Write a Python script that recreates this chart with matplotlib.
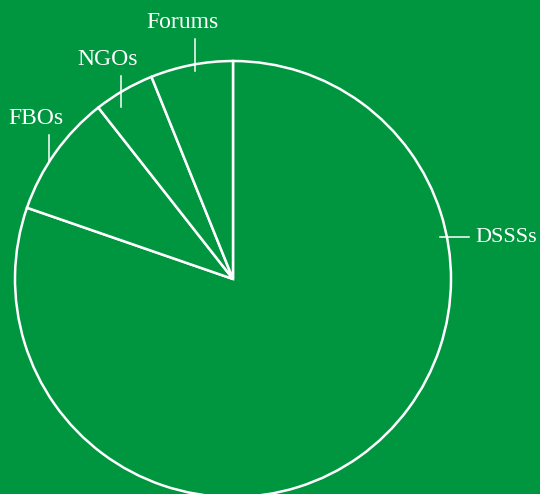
import numpy as np
import matplotlib.pyplot as plt

# Share of organisations by type
labels = ['DSSSs', 'FBOs', 'NGOs', 'Forums']
shares = [80.3, 9.1, 4.5, 6.1]

bg = '#00963f'
plt.rcParams['font.family'] = ['Liberation Serif', 'DejaVu Serif']

fig = plt.figure(figsize=(5.4, 4.94), dpi=100, facecolor=bg)
ax = fig.add_axes([0, 0, 1, 1])
ax.set_facecolor(bg)

# work in pixel-like units, y pointing up
cx, cy, r = 233, 215, 218
wedges, _ = ax.pie(shares, startangle=90, counterclock=False, center=(cx, cy), radius=r,
                   colors=[bg] * len(shares),
                   wedgeprops=dict(edgecolor='white', linewidth=1.8))
ax.set_xlim(0, 540)
ax.set_ylim(0, 494)
ax.set_aspect('equal')
ax.axis('off')

# leader tick placement: angle on the rim, length above / below the rim
ticks = {'FBOs': (147.6, 27, 0), 'NGOs': (121, 16, 15), 'Forums': (100, 25, 7)}

for w, lab in zip(wedges, labels):
    if lab == 'DSSSs':
        # big slice: horizontal tick on the right
        ang = np.deg2rad(11)
        x, y = cx + r * np.cos(ang), cy + r * np.sin(ang)
        ax.plot([x - 7, x + 22], [y, y], color='white', lw=1.1)
        ax.text(x + 28, y, lab, color='white', fontsize=16, ha='left', va='center')
    else:
        a, up, down = ticks[lab]
        ang = np.deg2rad(a)
        x, y = cx + r * np.cos(ang), cy + r * np.sin(ang)
        ax.plot([x, x], [y - down, y + up], color='white', lw=1.1)
        ax.text(x - 13, y + up + 11, lab, color='white', fontsize=17, ha='center', va='baseline')

fig.savefig('out.png', dpi=100, facecolor=bg)
